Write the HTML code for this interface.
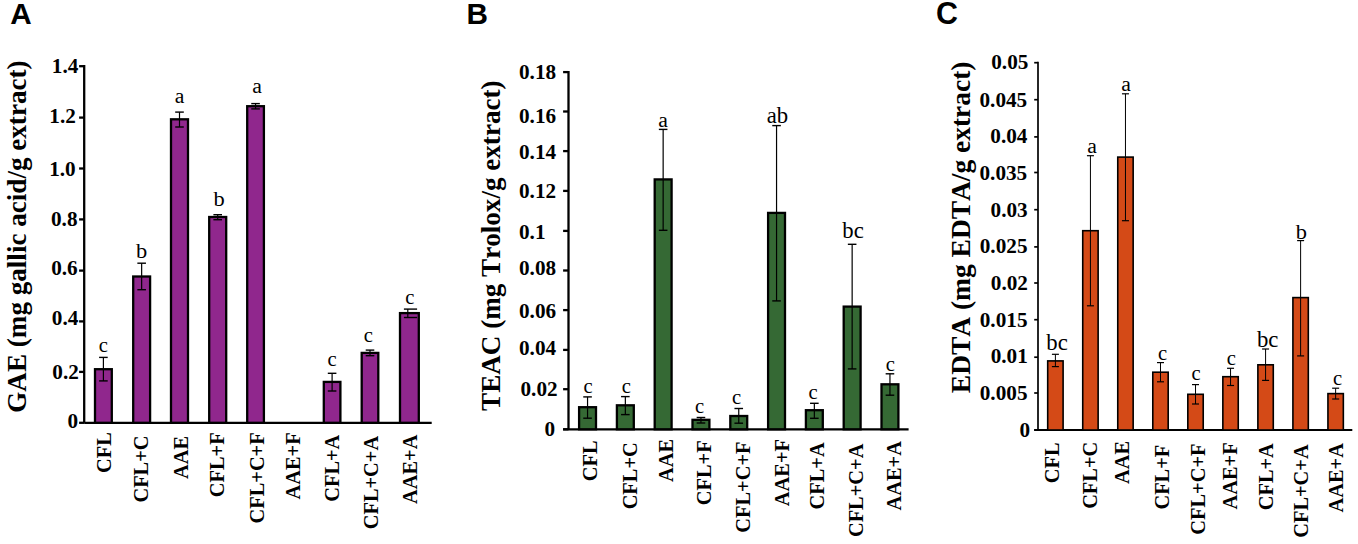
<!DOCTYPE html>
<html><head><meta charset="utf-8"><title>Chart</title>
<style>
html,body{margin:0;padding:0;background:#fff;width:1358px;height:544px;overflow:hidden;}
svg{display:block;}
text{font-kerning:none;font-feature-settings:"kern" 0;}
</style></head>
<body>
<svg width="1358" height="544" viewBox="0 0 1358 544">
<rect width="1358" height="544" fill="#fff"/>
<line x1="84.2" y1="65.05" x2="84.2" y2="422.8" stroke="#000" stroke-width="2.3"/>
<line x1="84.2" y1="422.8" x2="431.7" y2="422.8" stroke="#000" stroke-width="2.3"/>
<line x1="79.1" y1="422.8" x2="84.2" y2="422.8" stroke="#000" stroke-width="2.3"/>
<line x1="79.1" y1="371.9" x2="84.2" y2="371.9" stroke="#000" stroke-width="2.3"/>
<line x1="79.1" y1="321.4" x2="84.2" y2="321.4" stroke="#000" stroke-width="2.3"/>
<line x1="79.1" y1="270.6" x2="84.2" y2="270.6" stroke="#000" stroke-width="2.3"/>
<line x1="79.1" y1="219.4" x2="84.2" y2="219.4" stroke="#000" stroke-width="2.3"/>
<line x1="79.1" y1="168.5" x2="84.2" y2="168.5" stroke="#000" stroke-width="2.3"/>
<line x1="79.1" y1="117.6" x2="84.2" y2="117.6" stroke="#000" stroke-width="2.3"/>
<line x1="79.1" y1="66.2" x2="84.2" y2="66.2" stroke="#000" stroke-width="2.3"/>
<text transform="translate(78.21,428.41) scale(1.04,1)" text-anchor="end" style="font-family:&quot;Liberation Serif&quot;, serif;font-weight:bold;font-size:20.4px">0</text>
<text transform="translate(78.81,379.31) scale(1.04,1)" text-anchor="end" style="font-family:&quot;Liberation Serif&quot;, serif;font-weight:bold;font-size:20.4px">0.2</text>
<text transform="translate(78.29,325.31) scale(1.04,1)" text-anchor="end" style="font-family:&quot;Liberation Serif&quot;, serif;font-weight:bold;font-size:20.4px">0.4</text>
<text transform="translate(77.72,275.41) scale(1.04,1)" text-anchor="end" style="font-family:&quot;Liberation Serif&quot;, serif;font-weight:bold;font-size:20.4px">0.6</text>
<text transform="translate(77.5,225.91) scale(1.04,1)" text-anchor="end" style="font-family:&quot;Liberation Serif&quot;, serif;font-weight:bold;font-size:20.4px">0.8</text>
<text transform="translate(75.71,175.61) scale(1.04,1)" text-anchor="end" style="font-family:&quot;Liberation Serif&quot;, serif;font-weight:bold;font-size:20.4px">1.0</text>
<text transform="translate(75.81,122.61) scale(1.04,1)" text-anchor="end" style="font-family:&quot;Liberation Serif&quot;, serif;font-weight:bold;font-size:20.4px">1.2</text>
<text transform="translate(78.29,72.61) scale(1.04,1)" text-anchor="end" style="font-family:&quot;Liberation Serif&quot;, serif;font-weight:bold;font-size:20.4px">1.4</text>
<rect x="95" y="369.2" width="16.8" height="53.6" fill="#90278D" stroke="#000" stroke-width="2.3"/>
<line x1="103.4" y1="357.4" x2="103.4" y2="380.9" stroke="#000" stroke-width="1.2"/>
<line x1="99.1" y1="357.4" x2="107.7" y2="357.4" stroke="#000" stroke-width="1.4"/>
<line x1="99.1" y1="380.9" x2="107.7" y2="380.9" stroke="#000" stroke-width="1.4"/>
<rect x="133.2" y="276.5" width="16.9" height="146.3" fill="#90278D" stroke="#000" stroke-width="2.3"/>
<line x1="141.65" y1="263.2" x2="141.65" y2="289.7" stroke="#000" stroke-width="1.2"/>
<line x1="137.35" y1="263.2" x2="145.95" y2="263.2" stroke="#000" stroke-width="1.4"/>
<line x1="137.35" y1="289.7" x2="145.95" y2="289.7" stroke="#000" stroke-width="1.4"/>
<rect x="171" y="119.3" width="17" height="303.5" fill="#90278D" stroke="#000" stroke-width="2.3"/>
<line x1="179.5" y1="112.1" x2="179.5" y2="127" stroke="#000" stroke-width="1.2"/>
<line x1="175.2" y1="112.1" x2="183.8" y2="112.1" stroke="#000" stroke-width="1.4"/>
<line x1="175.2" y1="127" x2="183.8" y2="127" stroke="#000" stroke-width="1.4"/>
<rect x="209.2" y="217" width="17" height="205.8" fill="#90278D" stroke="#000" stroke-width="2.3"/>
<line x1="217.7" y1="214.7" x2="217.7" y2="219.7" stroke="#000" stroke-width="1.2"/>
<line x1="213.4" y1="214.7" x2="222" y2="214.7" stroke="#000" stroke-width="1.4"/>
<line x1="213.4" y1="219.7" x2="222" y2="219.7" stroke="#000" stroke-width="1.4"/>
<rect x="247.2" y="106.2" width="16.7" height="316.6" fill="#90278D" stroke="#000" stroke-width="2.3"/>
<line x1="255.55" y1="103.6" x2="255.55" y2="108.9" stroke="#000" stroke-width="1.2"/>
<line x1="251.25" y1="103.6" x2="259.85" y2="103.6" stroke="#000" stroke-width="1.4"/>
<line x1="251.25" y1="108.9" x2="259.85" y2="108.9" stroke="#000" stroke-width="1.4"/>
<rect x="323.8" y="381.9" width="16.6" height="40.9" fill="#90278D" stroke="#000" stroke-width="2.3"/>
<line x1="332.1" y1="373.3" x2="332.1" y2="391" stroke="#000" stroke-width="1.2"/>
<line x1="327.8" y1="373.3" x2="336.4" y2="373.3" stroke="#000" stroke-width="1.4"/>
<line x1="327.8" y1="391" x2="336.4" y2="391" stroke="#000" stroke-width="1.4"/>
<rect x="361.7" y="352.9" width="16.6" height="69.9" fill="#90278D" stroke="#000" stroke-width="2.3"/>
<line x1="370" y1="350.1" x2="370" y2="355.7" stroke="#000" stroke-width="1.2"/>
<line x1="365.7" y1="350.1" x2="374.3" y2="350.1" stroke="#000" stroke-width="1.4"/>
<line x1="365.7" y1="355.7" x2="374.3" y2="355.7" stroke="#000" stroke-width="1.4"/>
<rect x="400" y="313.1" width="18.8" height="109.7" fill="#90278D" stroke="#000" stroke-width="2.3"/>
<line x1="407.8" y1="309.1" x2="407.8" y2="317.5" stroke="#000" stroke-width="1.2"/>
<line x1="403.9" y1="309.1" x2="417.1" y2="309.1" stroke="#000" stroke-width="1.4"/>
<line x1="403.9" y1="317.5" x2="417.1" y2="317.5" stroke="#000" stroke-width="1.4"/>
<text transform="translate(103.3,352.3) scale(1.02,1)" text-anchor="middle" style="font-family:&quot;Liberation Serif&quot;, serif;font-weight:normal;font-size:20.2px">c</text>
<text transform="translate(141.7,257.82) scale(1.02,1)" text-anchor="middle" style="font-family:&quot;Liberation Serif&quot;, serif;font-weight:normal;font-size:22.0px">b</text>
<text transform="translate(179.6,103.01) scale(1.02,1)" text-anchor="middle" style="font-family:&quot;Liberation Serif&quot;, serif;font-weight:normal;font-size:21.3px">a</text>
<text transform="translate(219.2,206.12) scale(1.02,1)" text-anchor="middle" style="font-family:&quot;Liberation Serif&quot;, serif;font-weight:normal;font-size:22.0px">b</text>
<text transform="translate(257,93.41) scale(1.02,1)" text-anchor="middle" style="font-family:&quot;Liberation Serif&quot;, serif;font-weight:normal;font-size:21.3px">a</text>
<text transform="translate(332.1,366.2) scale(1.02,1)" text-anchor="middle" style="font-family:&quot;Liberation Serif&quot;, serif;font-weight:normal;font-size:20.2px">c</text>
<text transform="translate(368.4,341.9) scale(1.02,1)" text-anchor="middle" style="font-family:&quot;Liberation Serif&quot;, serif;font-weight:normal;font-size:20.2px">c</text>
<text transform="translate(409.8,304) scale(1.02,1)" text-anchor="middle" style="font-family:&quot;Liberation Serif&quot;, serif;font-weight:normal;font-size:20.2px">c</text>
<text transform="translate(111.38,432.24) scale(1.07,1) rotate(-90)" text-anchor="end" style="font-family:&quot;Liberation Serif&quot;, serif;font-weight:bold;font-size:20.4px">CFL</text>
<text transform="translate(148.18,435.45) scale(1.07,1) rotate(-90)" text-anchor="end" style="font-family:&quot;Liberation Serif&quot;, serif;font-weight:bold;font-size:20.4px">CFL+C</text>
<text transform="translate(187.58,435.95) scale(1.07,1) rotate(-90)" text-anchor="end" style="font-family:&quot;Liberation Serif&quot;, serif;font-weight:bold;font-size:20.4px">AAE</text>
<text transform="translate(223.68,432.32) scale(1.07,1) rotate(-90)" text-anchor="end" style="font-family:&quot;Liberation Serif&quot;, serif;font-weight:bold;font-size:20.4px">CFL+F</text>
<text transform="translate(264.18,432.32) scale(1.07,1) rotate(-90)" text-anchor="end" style="font-family:&quot;Liberation Serif&quot;, serif;font-weight:bold;font-size:20.4px">CFL+C+F</text>
<text transform="translate(299.78,432.32) scale(1.07,1) rotate(-90)" text-anchor="end" style="font-family:&quot;Liberation Serif&quot;, serif;font-weight:bold;font-size:20.4px">AAE+F</text>
<text transform="translate(339.18,434.65) scale(1.07,1) rotate(-90)" text-anchor="end" style="font-family:&quot;Liberation Serif&quot;, serif;font-weight:bold;font-size:20.4px">CFL+A</text>
<text transform="translate(378.48,435.85) scale(1.07,1) rotate(-90)" text-anchor="end" style="font-family:&quot;Liberation Serif&quot;, serif;font-weight:bold;font-size:20.4px">CFL+C+A</text>
<text transform="translate(416.78,434.65) scale(1.07,1) rotate(-90)" text-anchor="end" style="font-family:&quot;Liberation Serif&quot;, serif;font-weight:bold;font-size:20.4px">AAE+A</text>
<text transform="translate(25.6,60.41) rotate(-90)" text-anchor="end" style="font-family:&quot;Liberation Serif&quot;, serif;font-weight:bold;font-size:27.12px">GAE (mg gallic acid/g extract)</text>
<text transform="translate(10.2,23.9) scale(0.98,1)" text-anchor="start" style="font-family:&quot;Liberation Sans&quot;, sans-serif;font-weight:bold;font-size:30.3px">A</text>
<line x1="568.5" y1="70.95" x2="568.5" y2="429.3" stroke="#000" stroke-width="2.3"/>
<line x1="563.1" y1="429.3" x2="908.6" y2="429.3" stroke="#000" stroke-width="2.3"/>
<line x1="563.1" y1="429.3" x2="568.5" y2="429.3" stroke="#000" stroke-width="2.3"/>
<line x1="563.1" y1="389.2" x2="568.5" y2="389.2" stroke="#000" stroke-width="2.3"/>
<line x1="563.1" y1="349.9" x2="568.5" y2="349.9" stroke="#000" stroke-width="2.3"/>
<line x1="563.1" y1="310.1" x2="568.5" y2="310.1" stroke="#000" stroke-width="2.3"/>
<line x1="563.1" y1="270.5" x2="568.5" y2="270.5" stroke="#000" stroke-width="2.3"/>
<line x1="563.1" y1="230.9" x2="568.5" y2="230.9" stroke="#000" stroke-width="2.3"/>
<line x1="563.1" y1="190.9" x2="568.5" y2="190.9" stroke="#000" stroke-width="2.3"/>
<line x1="563.1" y1="151.1" x2="568.5" y2="151.1" stroke="#000" stroke-width="2.3"/>
<line x1="563.1" y1="111.5" x2="568.5" y2="111.5" stroke="#000" stroke-width="2.3"/>
<line x1="563.1" y1="72.1" x2="568.5" y2="72.1" stroke="#000" stroke-width="2.3"/>
<text transform="translate(555.11,435.61) scale(1.04,1)" text-anchor="end" style="font-family:&quot;Liberation Serif&quot;, serif;font-weight:bold;font-size:20.4px">0</text>
<text transform="translate(520.49,395.71) scale(1.04,1)" text-anchor="start" style="font-family:&quot;Liberation Serif&quot;, serif;font-weight:bold;font-size:20.4px">0.02</text>
<text transform="translate(518.99,354.81) scale(1.04,1)" text-anchor="start" style="font-family:&quot;Liberation Serif&quot;, serif;font-weight:bold;font-size:20.4px">0.04</text>
<text transform="translate(518.99,318.21) scale(1.04,1)" text-anchor="start" style="font-family:&quot;Liberation Serif&quot;, serif;font-weight:bold;font-size:20.4px">0.06</text>
<text transform="translate(518.99,275.41) scale(1.04,1)" text-anchor="start" style="font-family:&quot;Liberation Serif&quot;, serif;font-weight:bold;font-size:20.4px">0.08</text>
<text transform="translate(518.99,238.71) scale(1.04,1)" text-anchor="start" style="font-family:&quot;Liberation Serif&quot;, serif;font-weight:bold;font-size:20.4px">0.1</text>
<text transform="translate(518.99,198.21) scale(1.04,1)" text-anchor="start" style="font-family:&quot;Liberation Serif&quot;, serif;font-weight:bold;font-size:20.4px">0.12</text>
<text transform="translate(518.99,158.71) scale(1.04,1)" text-anchor="start" style="font-family:&quot;Liberation Serif&quot;, serif;font-weight:bold;font-size:20.4px">0.14</text>
<text transform="translate(518.99,123.11) scale(1.04,1)" text-anchor="start" style="font-family:&quot;Liberation Serif&quot;, serif;font-weight:bold;font-size:20.4px">0.16</text>
<text transform="translate(518.99,78.71) scale(1.04,1)" text-anchor="start" style="font-family:&quot;Liberation Serif&quot;, serif;font-weight:bold;font-size:20.4px">0.18</text>
<rect x="579.1" y="407.2" width="16.9" height="22.1" fill="#356934" stroke="#000" stroke-width="2.3"/>
<line x1="587.55" y1="396.9" x2="587.55" y2="418.2" stroke="#000" stroke-width="1.2"/>
<line x1="583.25" y1="396.9" x2="591.85" y2="396.9" stroke="#000" stroke-width="1.4"/>
<line x1="583.25" y1="418.2" x2="591.85" y2="418.2" stroke="#000" stroke-width="1.4"/>
<rect x="616.9" y="405.3" width="16.9" height="24" fill="#356934" stroke="#000" stroke-width="2.3"/>
<line x1="625.35" y1="396.6" x2="625.35" y2="414.6" stroke="#000" stroke-width="1.2"/>
<line x1="621.05" y1="396.6" x2="629.65" y2="396.6" stroke="#000" stroke-width="1.4"/>
<line x1="621.05" y1="414.6" x2="629.65" y2="414.6" stroke="#000" stroke-width="1.4"/>
<rect x="654.7" y="179.4" width="16.9" height="249.9" fill="#356934" stroke="#000" stroke-width="2.3"/>
<line x1="663.15" y1="129.4" x2="663.15" y2="230.3" stroke="#000" stroke-width="1.2"/>
<line x1="658.85" y1="129.4" x2="667.45" y2="129.4" stroke="#000" stroke-width="1.4"/>
<line x1="658.85" y1="230.3" x2="667.45" y2="230.3" stroke="#000" stroke-width="1.4"/>
<rect x="692.5" y="419.8" width="16.9" height="9.5" fill="#356934" stroke="#000" stroke-width="2.3"/>
<line x1="700.95" y1="417.5" x2="700.95" y2="423" stroke="#000" stroke-width="1.2"/>
<line x1="696.65" y1="417.5" x2="705.25" y2="417.5" stroke="#000" stroke-width="1.4"/>
<line x1="696.65" y1="423" x2="705.25" y2="423" stroke="#000" stroke-width="1.4"/>
<rect x="730.3" y="416" width="16.9" height="13.3" fill="#356934" stroke="#000" stroke-width="2.3"/>
<line x1="738.75" y1="408.5" x2="738.75" y2="423.2" stroke="#000" stroke-width="1.2"/>
<line x1="734.45" y1="408.5" x2="743.05" y2="408.5" stroke="#000" stroke-width="1.4"/>
<line x1="734.45" y1="423.2" x2="743.05" y2="423.2" stroke="#000" stroke-width="1.4"/>
<rect x="768.1" y="212.9" width="16.9" height="216.4" fill="#356934" stroke="#000" stroke-width="2.3"/>
<line x1="776.55" y1="125.6" x2="776.55" y2="300.9" stroke="#000" stroke-width="1.2"/>
<line x1="772.25" y1="125.6" x2="780.85" y2="125.6" stroke="#000" stroke-width="1.4"/>
<line x1="772.25" y1="300.9" x2="780.85" y2="300.9" stroke="#000" stroke-width="1.4"/>
<rect x="805.9" y="410.2" width="16.9" height="19.1" fill="#356934" stroke="#000" stroke-width="2.3"/>
<line x1="814.35" y1="403.3" x2="814.35" y2="418.3" stroke="#000" stroke-width="1.2"/>
<line x1="810.05" y1="403.3" x2="818.65" y2="403.3" stroke="#000" stroke-width="1.4"/>
<line x1="810.05" y1="418.3" x2="818.65" y2="418.3" stroke="#000" stroke-width="1.4"/>
<rect x="843.7" y="306.6" width="16.9" height="122.7" fill="#356934" stroke="#000" stroke-width="2.3"/>
<line x1="852.15" y1="244.3" x2="852.15" y2="368.9" stroke="#000" stroke-width="1.2"/>
<line x1="847.85" y1="244.3" x2="856.45" y2="244.3" stroke="#000" stroke-width="1.4"/>
<line x1="847.85" y1="368.9" x2="856.45" y2="368.9" stroke="#000" stroke-width="1.4"/>
<rect x="881.5" y="384.3" width="16.9" height="45" fill="#356934" stroke="#000" stroke-width="2.3"/>
<line x1="889.95" y1="373.8" x2="889.95" y2="395.2" stroke="#000" stroke-width="1.2"/>
<line x1="885.65" y1="373.8" x2="894.25" y2="373.8" stroke="#000" stroke-width="1.4"/>
<line x1="885.65" y1="395.2" x2="894.25" y2="395.2" stroke="#000" stroke-width="1.4"/>
<text transform="translate(588,393.2) scale(1.02,1)" text-anchor="middle" style="font-family:&quot;Liberation Serif&quot;, serif;font-weight:normal;font-size:20.2px">c</text>
<text transform="translate(626.4,392.8) scale(1.02,1)" text-anchor="middle" style="font-family:&quot;Liberation Serif&quot;, serif;font-weight:normal;font-size:20.2px">c</text>
<text transform="translate(663,127.21) scale(1.02,1)" text-anchor="middle" style="font-family:&quot;Liberation Serif&quot;, serif;font-weight:normal;font-size:21.3px">a</text>
<text transform="translate(699.6,413.1) scale(1.02,1)" text-anchor="middle" style="font-family:&quot;Liberation Serif&quot;, serif;font-weight:normal;font-size:20.2px">c</text>
<text transform="translate(736.5,404.2) scale(1.02,1)" text-anchor="middle" style="font-family:&quot;Liberation Serif&quot;, serif;font-weight:normal;font-size:20.2px">c</text>
<text transform="translate(777.5,123.12) scale(1.02,1)" text-anchor="middle" style="font-family:&quot;Liberation Serif&quot;, serif;font-weight:normal;font-size:22.3px">ab</text>
<text transform="translate(813.1,399.1) scale(1.02,1)" text-anchor="middle" style="font-family:&quot;Liberation Serif&quot;, serif;font-weight:normal;font-size:20.2px">c</text>
<text transform="translate(853,238.22) scale(1.02,1)" text-anchor="middle" style="font-family:&quot;Liberation Serif&quot;, serif;font-weight:normal;font-size:22.3px">bc</text>
<text transform="translate(890.3,370.8) scale(1.02,1)" text-anchor="middle" style="font-family:&quot;Liberation Serif&quot;, serif;font-weight:normal;font-size:20.2px">c</text>
<text transform="translate(597.28,440.44) scale(1.07,1) rotate(-90)" text-anchor="end" style="font-family:&quot;Liberation Serif&quot;, serif;font-weight:bold;font-size:20.4px">CFL</text>
<text transform="translate(637.38,442.25) scale(1.07,1) rotate(-90)" text-anchor="end" style="font-family:&quot;Liberation Serif&quot;, serif;font-weight:bold;font-size:20.4px">CFL+C</text>
<text transform="translate(672.98,438.95) scale(1.07,1) rotate(-90)" text-anchor="end" style="font-family:&quot;Liberation Serif&quot;, serif;font-weight:bold;font-size:20.4px">AAE</text>
<text transform="translate(711.28,440.32) scale(1.07,1) rotate(-90)" text-anchor="end" style="font-family:&quot;Liberation Serif&quot;, serif;font-weight:bold;font-size:20.4px">CFL+F</text>
<text transform="translate(750.08,441.52) scale(1.07,1) rotate(-90)" text-anchor="end" style="font-family:&quot;Liberation Serif&quot;, serif;font-weight:bold;font-size:20.4px">CFL+C+F</text>
<text transform="translate(788.78,439.02) scale(1.07,1) rotate(-90)" text-anchor="end" style="font-family:&quot;Liberation Serif&quot;, serif;font-weight:bold;font-size:20.4px">AAE+F</text>
<text transform="translate(823.78,442.35) scale(1.07,1) rotate(-90)" text-anchor="end" style="font-family:&quot;Liberation Serif&quot;, serif;font-weight:bold;font-size:20.4px">CFL+A</text>
<text transform="translate(862.78,443.65) scale(1.07,1) rotate(-90)" text-anchor="end" style="font-family:&quot;Liberation Serif&quot;, serif;font-weight:bold;font-size:20.4px">CFL+C+A</text>
<text transform="translate(901.48,441.15) scale(1.07,1) rotate(-90)" text-anchor="end" style="font-family:&quot;Liberation Serif&quot;, serif;font-weight:bold;font-size:20.4px">AAE+A</text>
<text transform="translate(499.9,80.41) rotate(-90)" text-anchor="end" style="font-family:&quot;Liberation Serif&quot;, serif;font-weight:bold;font-size:27.11px">TEAC (mg Trolox/g extract)</text>
<text transform="translate(466.6,23.9) scale(0.98,1)" text-anchor="start" style="font-family:&quot;Liberation Sans&quot;, sans-serif;font-weight:bold;font-size:30.3px">B</text>
<line x1="1038" y1="61.85" x2="1038" y2="430" stroke="#000" stroke-width="1.7"/>
<line x1="1034.2" y1="430" x2="1352.3" y2="430" stroke="#000" stroke-width="2.0"/>
<line x1="1034.2" y1="430" x2="1038" y2="430" stroke="#000" stroke-width="1.7"/>
<line x1="1034.2" y1="393" x2="1038" y2="393" stroke="#000" stroke-width="1.7"/>
<line x1="1034.2" y1="357.2" x2="1038" y2="357.2" stroke="#000" stroke-width="1.7"/>
<line x1="1034.2" y1="319.7" x2="1038" y2="319.7" stroke="#000" stroke-width="1.7"/>
<line x1="1034.2" y1="283" x2="1038" y2="283" stroke="#000" stroke-width="1.7"/>
<line x1="1034.2" y1="246.9" x2="1038" y2="246.9" stroke="#000" stroke-width="1.7"/>
<line x1="1034.2" y1="209.7" x2="1038" y2="209.7" stroke="#000" stroke-width="1.7"/>
<line x1="1034.2" y1="172.5" x2="1038" y2="172.5" stroke="#000" stroke-width="1.7"/>
<line x1="1034.2" y1="136.9" x2="1038" y2="136.9" stroke="#000" stroke-width="1.7"/>
<line x1="1034.2" y1="99.7" x2="1038" y2="99.7" stroke="#000" stroke-width="1.7"/>
<line x1="1034.2" y1="62.7" x2="1038" y2="62.7" stroke="#000" stroke-width="1.7"/>
<text transform="translate(1030.21,436.51) scale(1.04,1)" text-anchor="end" style="font-family:&quot;Liberation Serif&quot;, serif;font-weight:bold;font-size:20.4px">0</text>
<text transform="translate(1027.48,400.11) scale(1.04,1)" text-anchor="end" style="font-family:&quot;Liberation Serif&quot;, serif;font-weight:bold;font-size:20.4px">0.005</text>
<text transform="translate(1027.8,363.01) scale(1.04,1)" text-anchor="end" style="font-family:&quot;Liberation Serif&quot;, serif;font-weight:bold;font-size:20.4px">0.01</text>
<text transform="translate(1027.48,326.71) scale(1.04,1)" text-anchor="end" style="font-family:&quot;Liberation Serif&quot;, serif;font-weight:bold;font-size:20.4px">0.015</text>
<text transform="translate(1027.91,289.71) scale(1.04,1)" text-anchor="end" style="font-family:&quot;Liberation Serif&quot;, serif;font-weight:bold;font-size:20.4px">0.02</text>
<text transform="translate(1027.48,253.41) scale(1.04,1)" text-anchor="end" style="font-family:&quot;Liberation Serif&quot;, serif;font-weight:bold;font-size:20.4px">0.025</text>
<text transform="translate(1027.73,216.51) scale(1.04,1)" text-anchor="end" style="font-family:&quot;Liberation Serif&quot;, serif;font-weight:bold;font-size:20.4px">0.03</text>
<text transform="translate(1027.18,180.11) scale(1.04,1)" text-anchor="end" style="font-family:&quot;Liberation Serif&quot;, serif;font-weight:bold;font-size:20.4px">0.035</text>
<text transform="translate(1027.39,143.01) scale(1.04,1)" text-anchor="end" style="font-family:&quot;Liberation Serif&quot;, serif;font-weight:bold;font-size:20.4px">0.04</text>
<text transform="translate(1027.18,106.51) scale(1.04,1)" text-anchor="end" style="font-family:&quot;Liberation Serif&quot;, serif;font-weight:bold;font-size:20.4px">0.045</text>
<text transform="translate(1028.38,69.41) scale(1.04,1)" text-anchor="end" style="font-family:&quot;Liberation Serif&quot;, serif;font-weight:bold;font-size:20.4px">0.05</text>
<rect x="1047.7" y="360.9" width="15.4" height="69.1" fill="#D44A17" stroke="#000" stroke-width="1.6"/>
<line x1="1055.4" y1="354.3" x2="1055.4" y2="366.6" stroke="#000" stroke-width="1.0"/>
<line x1="1051.9" y1="354.3" x2="1058.9" y2="354.3" stroke="#000" stroke-width="1.2"/>
<line x1="1051.9" y1="366.6" x2="1058.9" y2="366.6" stroke="#000" stroke-width="1.2"/>
<rect x="1082.73" y="230.7" width="15.4" height="199.3" fill="#D44A17" stroke="#000" stroke-width="1.6"/>
<line x1="1090.43" y1="155.7" x2="1090.43" y2="305.8" stroke="#000" stroke-width="1.0"/>
<line x1="1086.93" y1="155.7" x2="1093.93" y2="155.7" stroke="#000" stroke-width="1.2"/>
<line x1="1086.93" y1="305.8" x2="1093.93" y2="305.8" stroke="#000" stroke-width="1.2"/>
<rect x="1117.76" y="157.1" width="15.4" height="272.9" fill="#D44A17" stroke="#000" stroke-width="1.6"/>
<line x1="1125.46" y1="93.8" x2="1125.46" y2="220.7" stroke="#000" stroke-width="1.0"/>
<line x1="1121.96" y1="93.8" x2="1128.96" y2="93.8" stroke="#000" stroke-width="1.2"/>
<line x1="1121.96" y1="220.7" x2="1128.96" y2="220.7" stroke="#000" stroke-width="1.2"/>
<rect x="1152.79" y="372.2" width="15.4" height="57.8" fill="#D44A17" stroke="#000" stroke-width="1.6"/>
<line x1="1160.49" y1="362.6" x2="1160.49" y2="381.8" stroke="#000" stroke-width="1.0"/>
<line x1="1156.99" y1="362.6" x2="1163.99" y2="362.6" stroke="#000" stroke-width="1.2"/>
<line x1="1156.99" y1="381.8" x2="1163.99" y2="381.8" stroke="#000" stroke-width="1.2"/>
<rect x="1187.82" y="394.3" width="15.4" height="35.7" fill="#D44A17" stroke="#000" stroke-width="1.6"/>
<line x1="1195.52" y1="384.6" x2="1195.52" y2="404" stroke="#000" stroke-width="1.0"/>
<line x1="1192.02" y1="384.6" x2="1199.02" y2="384.6" stroke="#000" stroke-width="1.2"/>
<line x1="1192.02" y1="404" x2="1199.02" y2="404" stroke="#000" stroke-width="1.2"/>
<rect x="1222.85" y="376.7" width="15.4" height="53.3" fill="#D44A17" stroke="#000" stroke-width="1.6"/>
<line x1="1230.55" y1="368.3" x2="1230.55" y2="385.5" stroke="#000" stroke-width="1.0"/>
<line x1="1227.05" y1="368.3" x2="1234.05" y2="368.3" stroke="#000" stroke-width="1.2"/>
<line x1="1227.05" y1="385.5" x2="1234.05" y2="385.5" stroke="#000" stroke-width="1.2"/>
<rect x="1257.88" y="364.8" width="15.4" height="65.2" fill="#D44A17" stroke="#000" stroke-width="1.6"/>
<line x1="1265.58" y1="349" x2="1265.58" y2="380.4" stroke="#000" stroke-width="1.0"/>
<line x1="1262.08" y1="349" x2="1269.08" y2="349" stroke="#000" stroke-width="1.2"/>
<line x1="1262.08" y1="380.4" x2="1269.08" y2="380.4" stroke="#000" stroke-width="1.2"/>
<rect x="1292.91" y="297.6" width="15.4" height="132.4" fill="#D44A17" stroke="#000" stroke-width="1.6"/>
<line x1="1300.61" y1="240.6" x2="1300.61" y2="355.9" stroke="#000" stroke-width="1.0"/>
<line x1="1297.11" y1="240.6" x2="1304.11" y2="240.6" stroke="#000" stroke-width="1.2"/>
<line x1="1297.11" y1="355.9" x2="1304.11" y2="355.9" stroke="#000" stroke-width="1.2"/>
<rect x="1327.94" y="393.6" width="15.4" height="36.4" fill="#D44A17" stroke="#000" stroke-width="1.6"/>
<line x1="1335.64" y1="388.2" x2="1335.64" y2="399" stroke="#000" stroke-width="1.0"/>
<line x1="1332.14" y1="388.2" x2="1339.14" y2="388.2" stroke="#000" stroke-width="1.2"/>
<line x1="1332.14" y1="399" x2="1339.14" y2="399" stroke="#000" stroke-width="1.2"/>
<text transform="translate(1057,349.92) scale(1.02,1)" text-anchor="middle" style="font-family:&quot;Liberation Serif&quot;, serif;font-weight:normal;font-size:22.3px">bc</text>
<text transform="translate(1092,153.11) scale(1.02,1)" text-anchor="middle" style="font-family:&quot;Liberation Serif&quot;, serif;font-weight:normal;font-size:21.3px">a</text>
<text transform="translate(1126.1,91.41) scale(1.02,1)" text-anchor="middle" style="font-family:&quot;Liberation Serif&quot;, serif;font-weight:normal;font-size:21.3px">a</text>
<text transform="translate(1162.5,360.2) scale(1.02,1)" text-anchor="middle" style="font-family:&quot;Liberation Serif&quot;, serif;font-weight:normal;font-size:20.2px">c</text>
<text transform="translate(1196.2,380.1) scale(1.02,1)" text-anchor="middle" style="font-family:&quot;Liberation Serif&quot;, serif;font-weight:normal;font-size:20.2px">c</text>
<text transform="translate(1231.4,364.7) scale(1.02,1)" text-anchor="middle" style="font-family:&quot;Liberation Serif&quot;, serif;font-weight:normal;font-size:20.2px">c</text>
<text transform="translate(1267.7,346.72) scale(1.02,1)" text-anchor="middle" style="font-family:&quot;Liberation Serif&quot;, serif;font-weight:normal;font-size:22.3px">bc</text>
<text transform="translate(1301.4,238.62) scale(1.02,1)" text-anchor="middle" style="font-family:&quot;Liberation Serif&quot;, serif;font-weight:normal;font-size:22.0px">b</text>
<text transform="translate(1337.6,384.5) scale(1.02,1)" text-anchor="middle" style="font-family:&quot;Liberation Serif&quot;, serif;font-weight:normal;font-size:20.2px">c</text>
<text transform="translate(1058.78,442.44) scale(1.07,1) rotate(-90)" text-anchor="end" style="font-family:&quot;Liberation Serif&quot;, serif;font-weight:bold;font-size:20.4px">CFL</text>
<text transform="translate(1097.38,441.75) scale(1.07,1) rotate(-90)" text-anchor="end" style="font-family:&quot;Liberation Serif&quot;, serif;font-weight:bold;font-size:20.4px">CFL+C</text>
<text transform="translate(1129.28,440.95) scale(1.07,1) rotate(-90)" text-anchor="end" style="font-family:&quot;Liberation Serif&quot;, serif;font-weight:bold;font-size:20.4px">AAE</text>
<text transform="translate(1169.38,444.72) scale(1.07,1) rotate(-90)" text-anchor="end" style="font-family:&quot;Liberation Serif&quot;, serif;font-weight:bold;font-size:20.4px">CFL+F</text>
<text transform="translate(1204.78,443.52) scale(1.07,1) rotate(-90)" text-anchor="end" style="font-family:&quot;Liberation Serif&quot;, serif;font-weight:bold;font-size:20.4px">CFL+C+F</text>
<text transform="translate(1237.48,442.32) scale(1.07,1) rotate(-90)" text-anchor="end" style="font-family:&quot;Liberation Serif&quot;, serif;font-weight:bold;font-size:20.4px">AAE+F</text>
<text transform="translate(1272.58,443.15) scale(1.07,1) rotate(-90)" text-anchor="end" style="font-family:&quot;Liberation Serif&quot;, serif;font-weight:bold;font-size:20.4px">CFL+A</text>
<text transform="translate(1307.58,444.35) scale(1.07,1) rotate(-90)" text-anchor="end" style="font-family:&quot;Liberation Serif&quot;, serif;font-weight:bold;font-size:20.4px">CFL+C+A</text>
<text transform="translate(1342.58,443.15) scale(1.07,1) rotate(-90)" text-anchor="end" style="font-family:&quot;Liberation Serif&quot;, serif;font-weight:bold;font-size:20.4px">AAE+A</text>
<text transform="translate(970.2,61.49) rotate(-90)" text-anchor="end" style="font-family:&quot;Liberation Serif&quot;, serif;font-weight:bold;font-size:27.46px">EDTA (mg EDTA/g extract)</text>
<text transform="translate(935.9,24) scale(0.98,1)" text-anchor="start" style="font-family:&quot;Liberation Sans&quot;, sans-serif;font-weight:bold;font-size:31.0px">C</text>
</svg>
</body></html>
